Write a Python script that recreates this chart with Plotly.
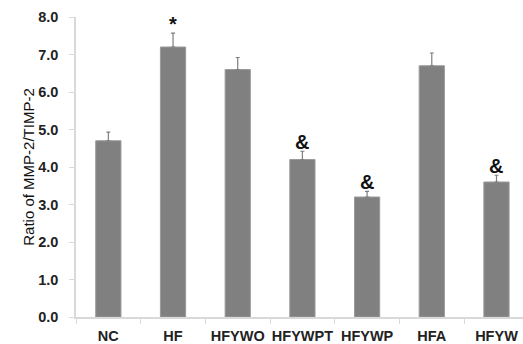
import plotly.graph_objects as go

categories = ["NC", "HF", "HFYWO", "HFYWPT", "HFYWP", "HFA", "HFYW"]
ratio = [4.7, 7.2, 6.6, 4.2, 3.2, 6.7, 3.6]
error = [0.23, 0.37, 0.32, 0.22, 0.15, 0.34, 0.18]
marks = ["", "*", "", "&", "&", "", "&"]
y_ticks = [0, 1, 2, 3, 4, 5, 6, 7, 8]

fig = go.Figure()
fig.add_trace(go.Bar(
    x=categories, y=ratio, width=0.39,
    marker=dict(color="#808080", line=dict(color="#9a9a9a", width=1)),
    error_y=dict(type="data", symmetric=False, array=error,
                 arrayminus=[0] * len(error), color="#7f7f7f",
                 thickness=1.2, width=2),
))

for c, v, e, m in zip(categories, ratio, error, marks):
    if m:
        fig.add_annotation(x=c, y=v + e, text=m, showarrow=False,
                           yanchor="bottom", yshift=-4,
                           font=dict(family="Liberation Sans", size=20,
                                     color="#111", weight="bold"))

fig.update_layout(
    width=523, height=344,
    margin=dict(l=76, r=0, t=17, b=27, autoexpand=False),
    plot_bgcolor="white", paper_bgcolor="white",
    showlegend=False,
    font=dict(family="Liberation Sans", color="#222"),
)
fig.update_xaxes(
    range=[-0.5, 6.41], showgrid=False, automargin=False, tickangle=0,
    showline=True, linecolor="#d9d9d9", linewidth=1.5,
    ticks="outside", tickson="boundaries", ticklen=5, tickcolor="#d9d9d9",
    ticklabelstandoff=5,
    tickfont=dict(size=14.5, family="Liberation Sans", color="#222", weight="bold"),
)
fig.update_yaxes(
    range=[0, 8], tickvals=y_ticks, ticktext=[f"{v:.1f}" for v in y_ticks],
    showgrid=False, zeroline=False, automargin=False,
    showline=True, linecolor="#d9d9d9", linewidth=1.5,
    ticks="outside", ticklen=5, tickcolor="#d9d9d9",
    ticklabelstandoff=8,
    tickfont=dict(size=14.5, family="Liberation Sans", color="#222", weight="bold"),
    title=dict(text="Ratio of MMP-2/TIMP-2", standoff=0,
               font=dict(size=15, family="Liberation Sans", color="#111")),
)

fig.write_html("out.html", config={"displayModeBar": False},
               post_script="document.body.style.margin='0';")
